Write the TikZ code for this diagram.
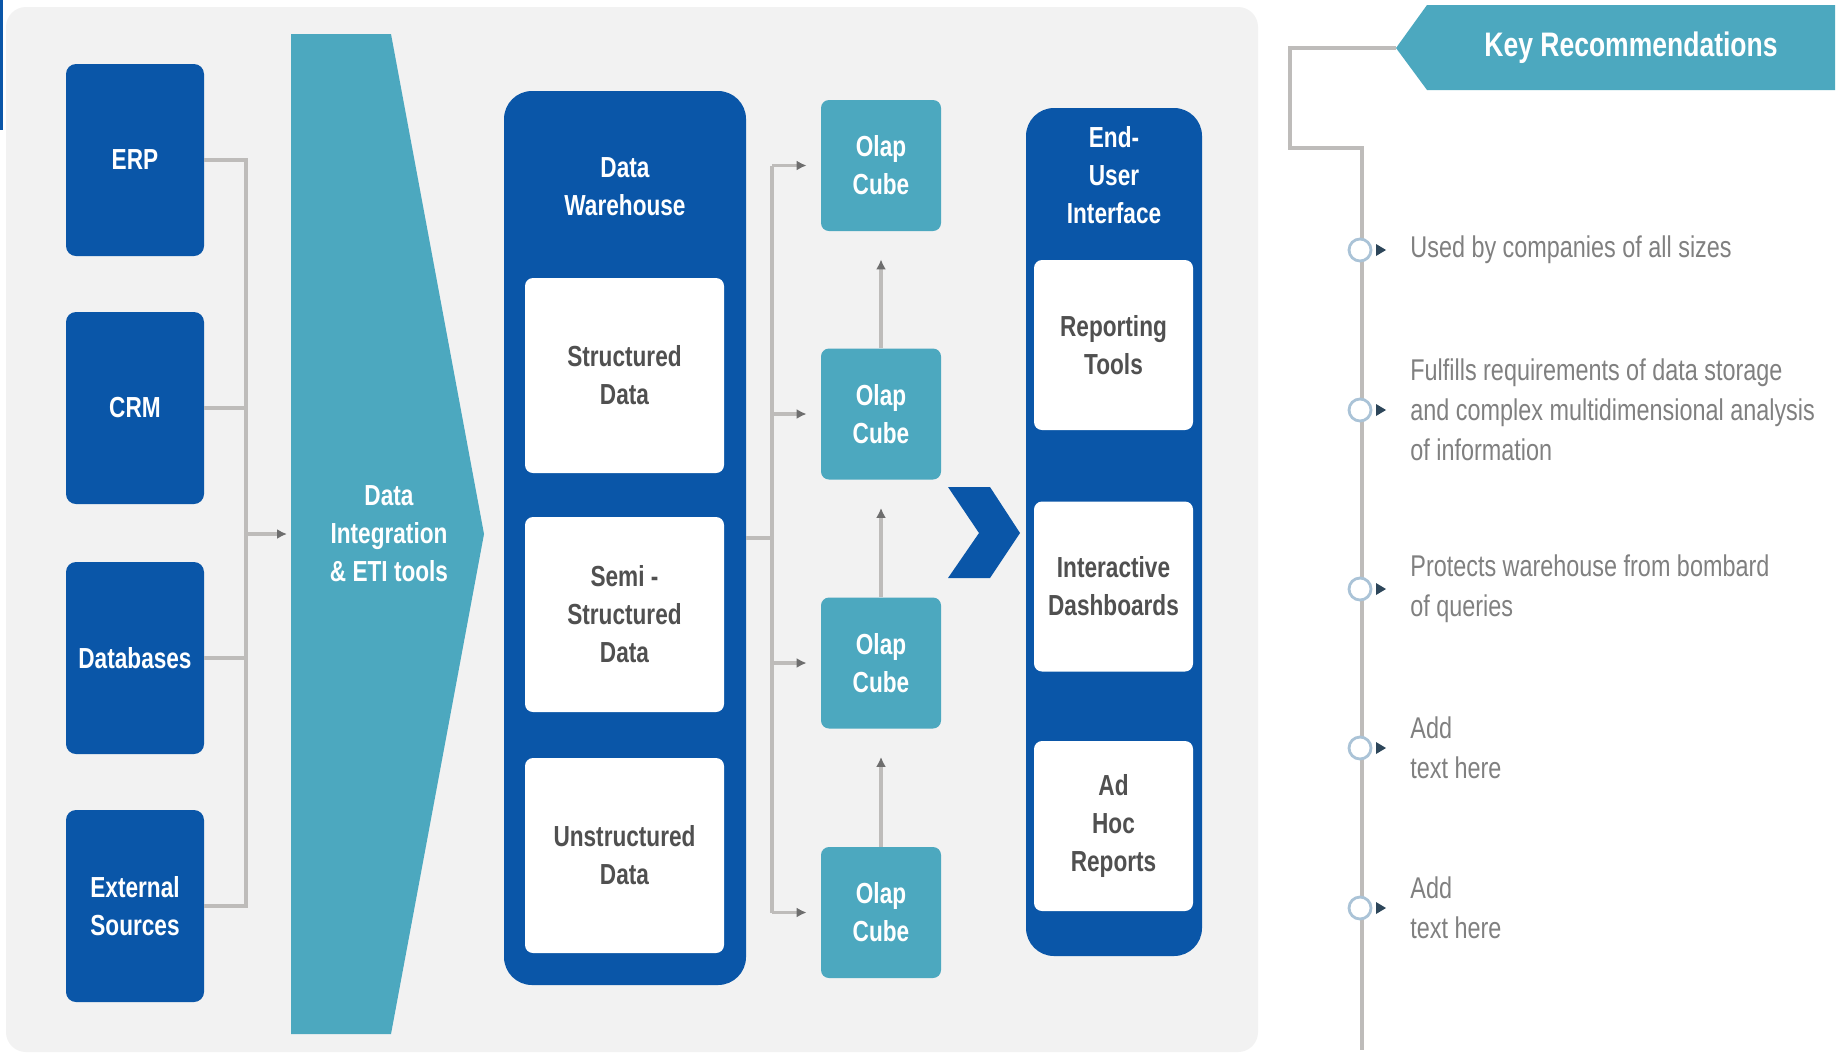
\documentclass[tikz,border=0pt]{standalone}
\usepackage{fontspec}
\setmainfont{Liberation Sans}[FakeStretch=0.78]
\usepackage{tikz}
\usetikzlibrary{arrows.meta}
\definecolor{dwblue}{RGB}{10,86,168}
\definecolor{dwteal}{RGB}{76,168,191}
\definecolor{panelgray}{RGB}{242,242,242}
\definecolor{linegray}{RGB}{190,188,186}
\definecolor{tipgray}{RGB}{110,110,110}
\definecolor{boxtext}{RGB}{80,80,80}
\definecolor{notetext}{RGB}{128,128,128}
\definecolor{ringblue}{RGB}{170,195,215}
\definecolor{bulletdark}{RGB}{45,70,90}
\newcommand\lblfont{\fontsize{14.5}{19}\selectfont\bfseries}
\newcommand\notefont{\fontsize{15}{20}\selectfont}
\tikzset{
  srcbox/.style={rectangle,rounded corners=5pt,fill=dwblue,text=white,font=\lblfont,align=center,inner sep=0pt,minimum width=69pt,minimum height=96pt},
  panel/.style={rectangle,rounded corners=14pt,fill=dwblue,inner sep=0pt},
  innerbox/.style={rectangle,rounded corners=4pt,fill=white,text=boxtext,font=\lblfont,align=center,inner sep=0pt},
  cube/.style={rectangle,rounded corners=4pt,fill=dwteal,text=white,font=\lblfont,align=center,inner sep=0pt,minimum width=60pt,minimum height=65.5pt},
  headtext/.style={text=white,font=\lblfont,align=center,inner sep=0pt},
  conn/.style={draw=linegray,line width=1.6pt},
  arr/.style={conn,-{Latex[length=5pt,width=5pt,color=tipgray]}},
  note/.style={text=notetext,font=\notefont,align=left,anchor=west,inner sep=0pt}
}
\begin{document}
\begin{tikzpicture}[x=0.5pt,y=-0.5pt]
\useasboundingbox (0,0) rectangle (1839,1056);
\fill[white] (0,0) rectangle (1839,1056);
\fill[panelgray,rounded corners=10pt] (6,7) rectangle (1258,1052);
\fill[dwblue] (0,0) rectangle (3,130);

\node[srcbox] (erp) at (135,160) {ERP};
\node[srcbox] (crm) at (135,408) {CRM};
\node[srcbox] (db) at (135,658) {Databases};
\node[srcbox] (ext) at (135,906) {External\\Sources};

\fill[dwteal] (291,34) -- (391,34) -- (484,534) -- (391,1034) -- (291,1034) -- cycle;
\node[headtext] (integ) at (389,534) {Data\\Integration\\\& ETI tools};
\coordinate (intin) at (291,534);
\coordinate (srcbus) at (246,534);

\node[panel,minimum width=121pt,minimum height=447pt] (dw) at (625,538) {};
\node[headtext] (dwtitle) at (625,187) {Data\\Warehouse};
\node[innerbox,minimum width=99.5pt,minimum height=97.5pt] (sd) at (624.5,375.5) {Structured\\Data};
\node[innerbox,minimum width=99.5pt,minimum height=97.5pt] (ssd) at (624.5,614.5) {Semi -\\Structured\\Data};
\node[innerbox,minimum width=99.5pt,minimum height=97.5pt] (ud) at (624.5,855.5) {Unstructured\\Data};

\foreach \n/\y in {1/165.5,2/414,3/663,4/912.5}
  \node[cube] (cube\n) at (881,\y) {Olap\\Cube};
\coordinate (cubebus) at (772,537);

\fill[dwblue] (948,487) -- (990,487) -- (1020,533) -- (990,578) -- (948,578) -- (979,533) -- cycle;

\node[panel,minimum width=88pt,minimum height=424pt] (eui) at (1114,532) {};
\node[headtext] (euititle) at (1114,175) {End-\\User\\Interface};
\node[innerbox,minimum width=79.5pt,minimum height=85pt] (rep) at (1113.5,345) {Reporting\\Tools};
\node[innerbox,minimum width=79.5pt,minimum height=85pt] (dash) at (1113.5,586.5) {Interactive\\Dashboards};
\node[innerbox,minimum width=79.5pt,minimum height=85pt] (adhoc) at (1113.5,826) {Ad\\Hoc\\Reports};

\draw[conn] (erp.east) -| (srcbus) |- (ext.east);
\draw[conn] (crm.east) -- (crm.east -| srcbus);
\draw[conn] (db.east) -- (db.east -| srcbus);
\draw[arr,shorten >=2pt] (srcbus) -- (intin);

\draw[conn] (dw.east) -- (dw.east -| cubebus);
\draw[conn] (cube1.west -| cubebus) -- (cube4.west -| cubebus);
\foreach \n in {1,...,4}
  \draw[arr,shorten >=7pt] (cube\n.west -| cubebus) -- (cube\n.west);
\foreach \a/\b in {2/1,3/2,4/3}
  \draw[arr,shorten >=14pt] (cube\a.north) -- (cube\b.south);

\fill[dwteal] (1396,48) -- (1427,5) -- (1835,5) -- (1835,90) -- (1427,90) -- cycle;
\node[headtext,font=\fontsize{17}{20}\selectfont\bfseries] (keyrec) at (1631,48) {Key Recommendations};
\coordinate (bannertip) at (1396,48);
\coordinate (tlturn) at (1290,148);
\coordinate (tlend) at (1362,1050);
\draw[conn] (bannertip) -| (tlturn) -- (tlturn -| tlend) -- (tlend);

\foreach \n/\y in {1/250,2/410,3/589,4/748,5/908}{
  \node[circle,draw=ringblue,line width=1.4pt,fill=white,minimum size=11pt,inner sep=0pt] (ring\n) at (1360,\y) {};
  \fill[bulletdark] (1376,\y-6) -- (1386,\y) -- (1376,\y+6) -- cycle;
}
\node[note] (n1) at (1410,250) {Used by companies of all sizes};
\node[note] (n2) at (1410,410) {Fulfills requirements of data storage\\and complex multidimensional analysis\\of information};
\node[note] (n3) at (1410,589) {Protects warehouse from bombard\\of queries};
\node[note] (n4) at (1410,748) {Add\\text here};
\node[note] (n5) at (1410,908) {Add\\text here};
\end{tikzpicture}
\end{document}
